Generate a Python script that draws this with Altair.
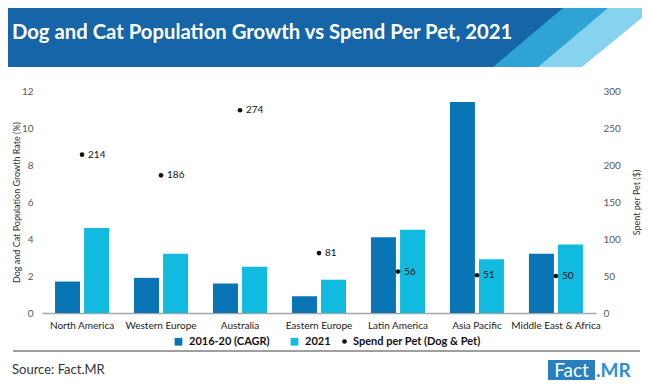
import altair as alt
import pandas as pd

# ---------------- data ----------------
regions = ["North America", "Western Europe", "Australia", "Eastern Europe",
           "Latin America", "Asia Pacific", "Middle East & Africa"]
cagr_2016_20 = [1.7, 1.9, 1.6, 0.9, 4.1, 11.4, 3.2]
growth_2021 = [4.6, 3.2, 2.5, 1.8, 4.5, 2.9, 3.7]
spend_per_pet = [214, 186, 274, 81, 56, 51, 50]
series_names = ["2016-20 (CAGR)", "2021"]
spend_label = "Spend per Pet (Dog & Pet)"
left_ticks = [0, 2, 4, 6, 8, 10, 12]
right_ticks = [0, 50, 100, 150, 200, 250, 300]

title_text = "Dog and Cat Population Growth vs Spend Per Pet, 2021"
source_text = "Source: Fact.MR"

bar_df = pd.DataFrame({
    "Region": regions * 2,
    "Series": [series_names[0]] * len(regions) + [series_names[1]] * len(regions),
    "Growth": cagr_2016_20 + growth_2021,
})
pt_df = pd.DataFrame({"Region": regions, "Spend": spend_per_pet,
                      "Legend": [spend_label] * len(regions)})
one = pd.DataFrame({"k": [0]})

# ---------------- style ----------------
W, H = 554, 222
FONT = "Lato"
DARK = "#0a75b4"
LIGHT = "#11bbdf"
HDR_DARK = "#1665a8"
HDR_MID = "#2fa3d6"
HDR_LIGHT = "#86d3f0"

x_enc = alt.X("Region:N", sort=regions,
              scale=alt.Scale(paddingInner=0.316, paddingOuter=0.165),
              axis=alt.Axis(title=None, labelAngle=0, labelFont=FONT, labelFontSize=10,
                            labelColor="#222222", labelPadding=7, domainColor="#a6a6a6",
                            domainWidth=1.5, ticks=False, grid=False))

bars = alt.Chart(bar_df).mark_bar().encode(
    x=x_enc,
    xOffset=alt.XOffset("Series:N", sort=series_names, scale=alt.Scale(paddingInner=0.14)),
    y=alt.Y("Growth:Q", scale=alt.Scale(domain=[0, 12]),
            axis=alt.Axis(values=left_ticks, title="Dog and Cat Population Growth Rate (%)",
                          titleFont=FONT, titleFontSize=9, titleFontWeight="normal",
                          titleColor="#333333", titleX=-26, titleY=111, titleBaseline="middle",
                          labelFont=FONT, labelFontSize=10, labelColor="#595959",
                          labelPadding=9, ticks=False, domain=False, grid=False)),
    color=alt.Color("Series:N", sort=series_names,
                    scale=alt.Scale(domain=series_names, range=[DARK, LIGHT]),
                    legend=alt.Legend(title=None, orient="none", legendX=131, legendY=245,
                                      direction="horizontal", symbolType="square",
                                      symbolSize=60, labelFont=FONT, labelFontSize=11,
                                      labelFontWeight="bold", labelColor="#111111",
                                      columnPadding=19, labelOffset=5)),
)

points = alt.Chart(pt_df).mark_point(filled=True, size=22, color="#111111", opacity=1).encode(
    x=x_enc,
    y=alt.Y("Spend:Q", scale=alt.Scale(domain=[0, 300]),
            axis=alt.Axis(orient="right", values=right_ticks, title="Spent per Pet ($)",
                          titleFont=FONT, titleFontSize=9, titleFontWeight="normal",
                          titleColor="#333333", titleX=40, titleY=111, titleAngle=270,
                          titleBaseline="middle",
                          labelFont=FONT, labelFontSize=10, labelColor="#595959",
                          labelPadding=7, ticks=False, domain=False, grid=False)),
    shape=alt.Shape("Legend:N", scale=alt.Scale(domain=[spend_label], range=["circle"]),
                    legend=alt.Legend(title=None, orient="none", legendX=297, legendY=245,
                                      symbolSize=22, symbolFillColor="#111111",
                                      symbolStrokeColor="#111111", labelFont=FONT,
                                      labelFontSize=11, labelFontWeight="bold",
                                      labelColor="#111111", labelOffset=3)),
)
labels = alt.Chart(pt_df).mark_text(align="left", baseline="middle", dx=6, font=FONT,
                                    fontSize=10, color="#111111").encode(
    x=x_enc,
    y=alt.Y("Spend:Q", scale=alt.Scale(domain=[0, 300]), axis=None),
    text="Spend:Q",
)


# ---------------- decoration ----------------
def band(xtop, xbot, color):
    df = pd.DataFrame({"y": [-83, -24], "x0": [-34, -34], "x1": [xtop, xbot]})
    return alt.Chart(df).mark_area(orient="horizontal", color=color, opacity=1).encode(
        y=alt.Y("y:Q", scale=None, axis=None),
        x=alt.X("x0:Q", scale=None, axis=None, stack=None),
        x2="x1:Q",
    )


hdr_light = band(612, 540, HDR_LIGHT)
hdr_mid = band(566, 496, HDR_MID)
hdr_dark = band(521, 451, HDR_DARK)

title = alt.Chart(one).mark_text(text=title_text, align="left", baseline="middle", font=FONT,
                                 fontSize=20.3, fontWeight="bold", color="white").encode(
    x=alt.value(-30), y=alt.value(-58))

sep = alt.Chart(one).mark_rule(color="#7f7f7f", strokeWidth=1.5).encode(
    x=alt.value(-29), x2=alt.value(598), y=alt.value(260))

source = alt.Chart(one).mark_text(text=source_text, align="left", baseline="middle", font=FONT,
                                  fontSize=13, color="#333333").encode(
    x=alt.value(-30), y=alt.value(279))

logo_box = alt.Chart(one).mark_rect(color="#2a7fc1").encode(
    x=alt.value(506), x2=alt.value(553), y=alt.value(269), y2=alt.value(290))
logo_fact = alt.Chart(one).mark_text(text="Fact", align="center", baseline="middle", font=FONT,
                                     fontSize=19, color="white").encode(
    x=alt.value(529.5), y=alt.value(280))
logo_mr = alt.Chart(one).mark_text(text=".MR", align="left", baseline="middle", font=FONT,
                                   fontSize=19, fontWeight="bold", color="#2a8fd6").encode(
    x=alt.value(554), y=alt.value(280))

chart = alt.layer(
    hdr_light, hdr_mid, hdr_dark, title,
    bars, points, labels,
    sep, source, logo_box, logo_fact, logo_mr,
).resolve_scale(y="independent", color="independent", shape="independent").properties(
    width=W, height=H,
    autosize=alt.AutoSizeParams(type="none"),
    padding={"left": 34, "top": 83, "right": 46, "bottom": 67},
    background="white",
).configure_view(stroke=None)

chart.save("out.html", embed_options={"renderer": "svg", "actions": False})
